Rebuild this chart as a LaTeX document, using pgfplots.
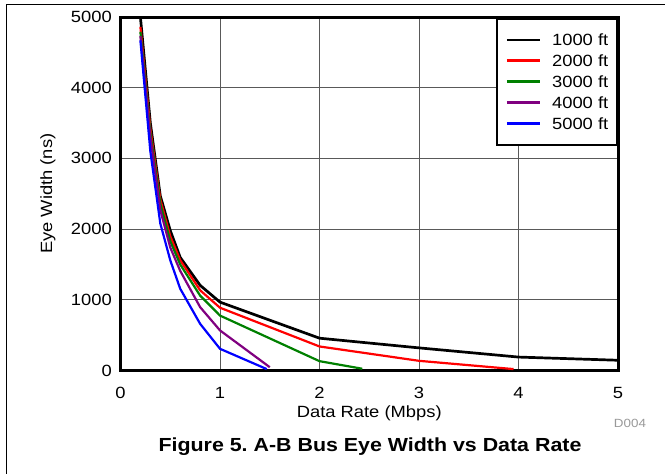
\documentclass[border=0pt]{standalone}
\usepackage{fontspec}
\setmainfont[FakeStretch=1.13]{Liberation Sans}
\usepackage{pgfplots}
\pgfplotsset{compat=1.18}
\newcommand{\lblfont}{\fontsize{16.3}{19}\selectfont}
\frenchspacing
\begin{document}
\begin{tikzpicture}[x=1bp,y=1bp]
\path[use as bounding box] (0,0) rectangle (671,-474);
\draw[line width=1.2bp] (6.5,-474) -- (6.5,-4.5) -- (665,-4.5);
\begin{axis}[
  at={(120.5bp,-370.5bp)}, anchor=south west,
  scale only axis, width=497.5bp, height=353.5bp,
  xmin=0, xmax=5, ymin=0, ymax=5000,
  xtick={0,1,2,3,4,5}, ytick={0,1000,2000,3000,4000,5000},
  grid=major,
  major grid style={black!65, line width=1bp},
  axis line style={line width=3bp},
  major tick length=0pt,
  scaled y ticks=false,
  /pgf/number format/1000 sep={},
  /pgf/number format/assume math mode=true,
  ticklabel style={font=\lblfont, inner sep=0pt},
  xticklabel style={anchor=center, yshift=-22bp},
  yticklabel style={anchor=east, xshift=-8.5bp},
  xlabel={Data Rate (Mbps)},
  ylabel={Eye Width (ns)},
  label style={font=\lblfont},
  xlabel style={at={(axis description cs:0.5,-0.1202)}, anchor=center},
  ylabel style={at={(axis description cs:-0.1457,0.5)}, anchor=center},
  legend style={at={(axis description cs:1,1)}, anchor=north east,
    line width=2.5bp, draw=black, fill=white, font=\lblfont,
    inner xsep=8.5bp, inner ysep=15.6bp, row sep=8.95bp, column sep=11bp,
    nodes={inner sep=0pt, text height=11.9bp, text depth=0pt}},
  legend cell align=left,
  legend image code/.code={\draw[line width=2.6bp, #1] (0bp,0bp) -- (33bp,0bp);},
]
\addplot[color=black, line width=2.7bp] coordinates {(0.2,5000)(0.3,3500)(0.4,2470)(0.5,1980)(0.6,1600)(0.8,1205)(1,967)(2,457)(3,320)(4,190)(5,145)};
\addlegendentry{1000 ft}
\addplot[color=red, line width=2.2bp] coordinates {(0.2,4860)(0.3,3420)(0.4,2420)(0.5,1900)(0.6,1560)(0.8,1135)(1,888)(2,340)(3,137)(3.95,20)};
\addlegendentry{2000 ft}
\addplot[color={rgb,255:red,0;green,128;blue,0}, line width=2.2bp] coordinates {(0.2,4790)(0.3,3360)(0.4,2360)(0.5,1830)(0.6,1500)(0.8,1060)(1,777)(2,132)(2.43,25)};
\addlegendentry{3000 ft}
\addplot[color={rgb,255:red,128;green,0;blue,128}, line width=2.2bp] coordinates {(0.2,4730)(0.3,3300)(0.4,2270)(0.5,1740)(0.6,1410)(0.8,897)(1,567)(1.5,47)};
\addlegendentry{4000 ft}
\addplot[color={rgb,255:red,0;green,0;blue,255}, line width=2.2bp] coordinates {(0.2,4670)(0.3,3100)(0.4,2080)(0.5,1560)(0.6,1157)(0.8,661)(1,307)(1.47,20)};
\addlegendentry{5000 ft}
\end{axis}
\node[font=\fontsize{11.9}{14}\selectfont, text=black!40, inner sep=0pt] at (630,-423) {D004};
\node[font=\fontsize{19}{22}\selectfont\bfseries, inner sep=0pt] at (370,-447) {Figure 5. A-B Bus Eye Width vs Data Rate};
\end{tikzpicture}
\end{document}
